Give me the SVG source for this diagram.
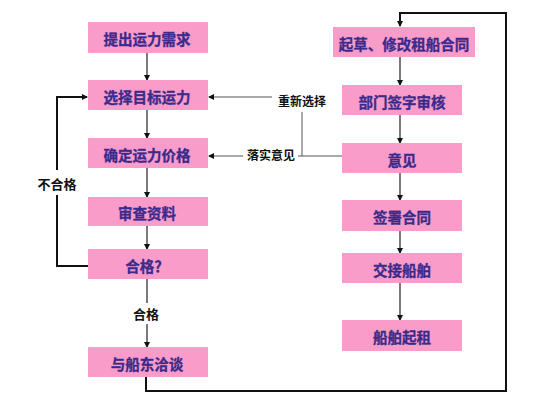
<svg xmlns="http://www.w3.org/2000/svg" width="533" height="400" viewBox="0 0 533 400">
  <style>
    .box { fill: #f99cc9; }
    .t { font-family: "Noto Sans CJK SC", "Liberation Sans", sans-serif; font-weight: bold; font-size: 14.5px; fill: #3b2a8c; stroke: #3b2a8c; stroke-width: 0.3; text-anchor: middle; dominant-baseline: central; }
    .lbl { font-family: "Noto Sans CJK SC", "Liberation Sans", sans-serif; font-weight: bold; font-size: 12px; fill: #111; text-anchor: middle; dominant-baseline: central; }
    .thin { fill: none; stroke: #222; stroke-width: 1.2; }
    .thick { fill: none; stroke: #111; stroke-width: 2; }
    .gray { fill: none; stroke: #555; stroke-width: 1; }
  </style>
  <defs>
    <marker id="ah" markerWidth="6" markerHeight="6" refX="5" refY="3" orient="auto" markerUnits="userSpaceOnUse">
      <path d="M0,0 L6,3 L0,6 Z" fill="#111"/>
    </marker>
  </defs>
  <rect width="533" height="400" fill="#fff"/>

  <g id="connectors">
    <line class="thin" x1="147" y1="53" x2="147" y2="80" marker-end="url(#ah)"/>
    <line class="thin" x1="147" y1="110" x2="147" y2="138" marker-end="url(#ah)"/>
    <line class="thin" x1="147" y1="168" x2="147" y2="197" marker-end="url(#ah)"/>
    <line class="thin" x1="147" y1="226" x2="147" y2="249" marker-end="url(#ah)"/>
    <line class="thin" x1="147" y1="279" x2="147" y2="303"/>
    <line class="thin" x1="147" y1="324" x2="147" y2="347" marker-end="url(#ah)"/>
    <polyline class="thick" points="88,266 57,266 57,195"/>
    <polyline class="thick" points="57,170 57,97 87,97" marker-end="url(#ah)"/>
    <polyline class="thick" points="146,377 146,391 506,391 506,13 400,13 400,26" marker-end="url(#ah)"/>
    <line class="thin" x1="400" y1="57" x2="400" y2="85" marker-end="url(#ah)"/>
    <line class="thin" x1="400" y1="115" x2="400" y2="143" marker-end="url(#ah)"/>
    <line class="thin" x1="400" y1="173" x2="400" y2="200" marker-end="url(#ah)"/>
    <line class="thin" x1="400" y1="231" x2="400" y2="253" marker-end="url(#ah)"/>
    <line class="thin" x1="400" y1="283" x2="400" y2="320" marker-end="url(#ah)"/>
    <polyline class="gray" points="342,156 302,156 302,112"/>
    <line class="gray" x1="298" y1="156" x2="302" y2="156"/>
    <line class="gray" x1="272" y1="97" x2="209" y2="97" marker-end="url(#ah)"/>
    <line class="gray" x1="243" y1="156" x2="209" y2="156" marker-end="url(#ah)"/>
  </g>

  <g id="labels">
    <text class="lbl" x="302" y="100">重新选择</text>
    <text class="lbl" x="271" y="154">落实意见</text>
    <text class="lbl" x="57" y="183" style="font-size:13px">不合格</text>
    <text class="lbl" x="146" y="313" style="font-size:13px">合格</text>
  </g>

  <g id="n1"><rect class="box" x="88" y="22" width="120" height="31"/><text class="t" x="147" y="38">提出运力需求</text></g>
  <g id="n2"><rect class="box" x="88" y="80" width="120" height="30"/><text class="t" x="147" y="96">选择目标运力</text></g>
  <g id="n3"><rect class="box" x="88" y="138" width="120" height="30"/><text class="t" x="147" y="154">确定运力价格</text></g>
  <g id="n4"><rect class="box" x="88" y="197" width="120" height="29"/><text class="t" x="147" y="212">审查资料</text></g>
  <g id="n5"><rect class="box" x="88" y="249" width="120" height="30"/><text class="t" x="147" y="265">合格？</text></g>
  <g id="n6"><rect class="box" x="88" y="347" width="120" height="30"/><text class="t" x="147" y="363">与船东洽谈</text></g>

  <g id="r1"><rect class="box" x="333" y="27" width="142" height="30"/><text class="t" x="404" y="43">起草、修改租船合同</text></g>
  <g id="r2"><rect class="box" x="342" y="85" width="120" height="30"/><text class="t" x="402" y="101">部门签字审核</text></g>
  <g id="r3"><rect class="box" x="342" y="143" width="120" height="30"/><text class="t" x="402" y="159">意见</text></g>
  <g id="r4"><rect class="box" x="342" y="200" width="120" height="31"/><text class="t" x="402" y="216">签署合同</text></g>
  <g id="r5"><rect class="box" x="342" y="253" width="120" height="30"/><text class="t" x="402" y="269">交接船舶</text></g>
  <g id="r6"><rect class="box" x="342" y="320" width="120" height="31"/><text class="t" x="402" y="336">船舶起租</text></g>
</svg>
